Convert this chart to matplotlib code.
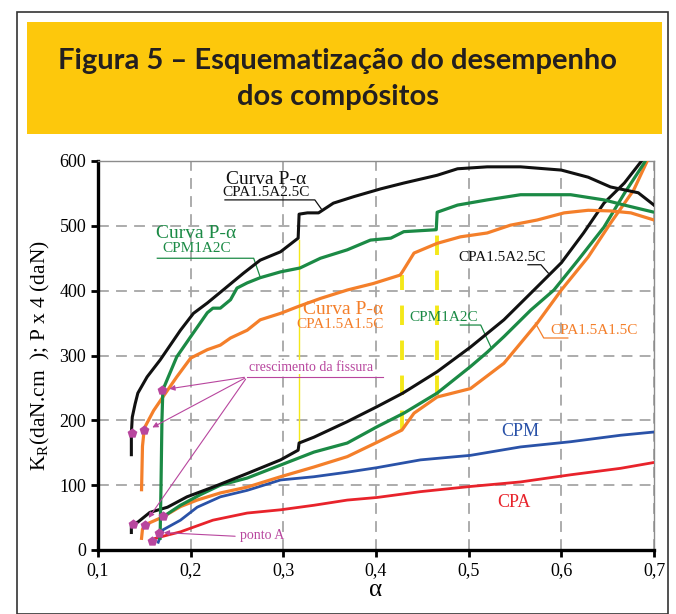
import matplotlib.pyplot as plt
from matplotlib.patches import Rectangle
from matplotlib.ticker import FuncFormatter

# P-alpha curves (upper) and K_R curves (lower)
pa_black_x = [0.136, 0.136, 0.137, 0.140, 0.143, 0.153, 0.167, 0.189, 0.203, 0.218, 0.235, 0.257, 0.275,
              0.297, 0.316, 0.317, 0.326, 0.338, 0.354, 0.376, 0.405, 0.430, 0.466, 0.488, 0.520,
              0.556, 0.600, 0.629, 0.653, 0.683, 0.700]
pa_black_y = [147, 180, 205, 225, 242, 267, 293, 339, 365, 381, 401, 427, 447,
              460, 481, 518, 520, 520, 535, 545, 557, 566, 578, 588, 591,
              591, 586, 575, 560, 551, 532]

pa_green_x = [0.167, 0.168, 0.169, 0.170, 0.185, 0.200, 0.218, 0.224, 0.232, 0.243, 0.250, 0.261, 0.275,
              0.297, 0.318, 0.340, 0.369, 0.394, 0.416, 0.430, 0.465, 0.466, 0.488, 0.520,
              0.556, 0.610, 0.646, 0.668, 0.700]
pa_green_y = [18, 100, 200, 247, 298, 329, 366, 373, 373, 386, 404, 412, 420,
              429, 435, 450, 463, 478, 481, 491, 494, 521, 532, 540,
              548, 548, 540, 532, 521]

pa_orange_x = [0.147, 0.148, 0.150, 0.160, 0.170, 0.185, 0.200, 0.218, 0.232, 0.243, 0.261, 0.275,
               0.297, 0.315, 0.340, 0.369, 0.397, 0.426, 0.428, 0.441, 0.466, 0.491, 0.520,
               0.545, 0.574, 0.603, 0.629, 0.653, 0.675, 0.700]
pa_orange_y = [93, 160, 188, 215, 236, 267, 296, 309, 316, 327, 339, 355,
               365, 375, 388, 401, 411, 424, 428, 458, 473, 483, 489,
               501, 509, 520, 524, 523, 520, 509]

kr_black_x = [0.136, 0.136, 0.143, 0.156, 0.175, 0.196, 0.224, 0.261, 0.297, 0.316, 0.317, 0.333,
              0.369, 0.401, 0.429, 0.466, 0.502, 0.538, 0.574, 0.600, 0.624, 0.646, 0.668, 0.686, 0.695]
kr_black_y = [27, 40, 43, 58, 66, 82, 97, 118, 139, 154, 165, 174,
              198, 221, 242, 275, 313, 355, 406, 443, 489, 535, 566, 599, 620]

kr_green_x = [0.170, 0.189, 0.210, 0.232, 0.261, 0.297, 0.333, 0.369, 0.401, 0.430, 0.466, 0.502,
              0.520, 0.538, 0.567, 0.592, 0.618, 0.646, 0.668, 0.689, 0.698]
kr_green_y = [51, 69, 85, 100, 111, 131, 151, 165, 190, 211, 242, 283,
              305, 329, 370, 401, 447, 498, 550, 596, 620]

kr_orange_x = [0.147, 0.148, 0.151, 0.170, 0.189, 0.207, 0.232, 0.261, 0.297, 0.333, 0.369, 0.401,
               0.428, 0.441, 0.466, 0.502, 0.538, 0.574, 0.600, 0.629, 0.653, 0.678, 0.693, 0.700]
kr_orange_y = [18, 32, 39, 51, 67, 77, 88, 97, 113, 128, 144, 166,
               185, 211, 236, 249, 288, 350, 401, 452, 504, 555, 601, 620]

cpm_x = [0.165, 0.170, 0.189, 0.207, 0.232, 0.261, 0.297, 0.333, 0.369, 0.401, 0.448, 0.502,
         0.556, 0.610, 0.664, 0.700]
cpm_y = [12, 31, 46, 66, 82, 92, 108, 113, 120, 127, 139, 146,
         159, 167, 177, 182]

cpa_x = [0.162, 0.175, 0.189, 0.224, 0.261, 0.297, 0.333, 0.369, 0.401, 0.448, 0.502,
         0.556, 0.610, 0.664, 0.700]
cpa_y = [18, 23, 28, 46, 57, 62, 69, 77, 81, 90, 98,
         105, 116, 126, 135]

# crack growth markers
mark_x = [0.169, 0.137, 0.150, 0.138, 0.151, 0.170, 0.166, 0.158]
mark_y = [247, 181, 185, 40, 39, 52, 26, 14]

# yellow reference lines (x, y0, y1)
yl_thin = (0.317, 165, 478)
yl_dashed = [(0.428, 185, 424), (0.466, 239, 500)]

BLACK = '#111111'
GREEN = '#1b8a45'
ORANGE = '#f47f2a'
BLUE = '#2a52a8'
RED = '#e8232b'
PINK = '#b8469e'
YELLOW = '#f4e81a'

plt.rcParams['font.family'] = ['Liberation Serif', 'DejaVu Serif']

fig = plt.figure(figsize=(6.76, 6.14), dpi=100)

# frame and title box
fig.patches.append(Rectangle((17 / 676, 0), 651 / 676, 1 - 12 / 614, transform=fig.transFigure,
                             fill=False, edgecolor='#333333', linewidth=1.2))
fig.patches.append(Rectangle((27 / 676, 1 - 134 / 614), 635 / 676, 112 / 614, transform=fig.transFigure,
                             facecolor='#fdc80c', edgecolor='none'))
fig.text(0.5, 1 - 61 / 614, 'Figura 5 – Esquematização do desempenho', ha='center', va='center',
         fontsize=21, fontweight='bold', family=['Lato', 'DejaVu Sans'], color='#231f20')
fig.text(0.5, 1 - 97 / 614, 'dos compósitos', ha='center', va='center',
         fontsize=21, fontweight='bold', family=['Lato', 'DejaVu Sans'], color='#231f20')

ax = fig.add_axes([98 / 676, 1 - 550 / 614, 556 / 676, 389 / 614])
ax.set_xlim(0.1, 0.7)
ax.set_ylim(0, 600)

ax.grid(True, color='#a6a6a6', linestyle=(0, (6, 4)), linewidth=1.3)
ax.set_axisbelow(True)

# yellow guide lines
ax.plot([yl_thin[0], yl_thin[0]], [yl_thin[1], yl_thin[2]], color=YELLOW, lw=1.0, zorder=2)
for x0, y0, y1 in yl_dashed:
    ax.plot([x0, x0], [y0, y1], color=YELLOW, lw=2.8, linestyle=(0, (5, 4)), zorder=2)

ax.plot(cpa_x, cpa_y, color=RED, lw=2.0, zorder=3)
ax.plot(cpm_x, cpm_y, color=BLUE, lw=2.0, zorder=3)
ax.plot(kr_orange_x, kr_orange_y, color=ORANGE, lw=2.3, zorder=3)
ax.plot(kr_green_x, kr_green_y, color=GREEN, lw=2.3, zorder=3)
ax.plot(kr_black_x, kr_black_y, color=BLACK, lw=2.2, zorder=3)
ax.plot(pa_orange_x, pa_orange_y, color=ORANGE, lw=2.3, zorder=3)
ax.plot(pa_green_x, pa_green_y, color=GREEN, lw=2.3, zorder=3)
ax.plot(pa_black_x, pa_black_y, color=BLACK, lw=2.2, zorder=3)

ax.scatter(mark_x, mark_y, marker='p', s=55, color=PINK, zorder=5, linewidths=0)

# labels
ax.text(0.238, 572, 'Curva P-α', ha='left', va='center', fontsize=14, color=BLACK)
ax.text(0.234, 551, 'CPA1.5A2.5C', ha='left', va='center', fontsize=11, color=BLACK)
ax.plot([0.237, 0.334, 0.341], [540, 540, 526], color=BLACK, lw=0.9)

ax.text(0.163, 488, 'Curva P-α', ha='left', va='center', fontsize=14, color=GREEN)
ax.text(0.206, 465, 'CPM1A2C', ha='center', va='center', fontsize=11, color=GREEN)
ax.plot([0.164, 0.268, 0.275], [450, 450, 421], color=GREEN, lw=0.9)

ax.text(0.321, 371, 'Curva P-α', ha='left', va='center', fontsize=14, color=ORANGE)
ax.text(0.314, 348, 'CPA1.5A1.5C', ha='left', va='center', fontsize=11, color=ORANGE)

ax.text(0.489, 451, 'CPA1.5A2.5C', ha='left', va='center', fontsize=11, color=BLACK)
ax.plot([0.564, 0.578, 0.586], [440, 440, 427], color=BLACK, lw=0.9)

ax.text(0.436, 358, 'CPM1A2C', ha='left', va='center', fontsize=11, color=GREEN)
ax.plot([0.491, 0.513, 0.524], [347, 347, 313], color=GREEN, lw=0.9)

ax.text(0.588, 338, 'CPA1.5A1.5C', ha='left', va='center', fontsize=11, color=ORANGE)
ax.plot([0.572, 0.581, 0.607], [350, 327, 327], color=ORANGE, lw=0.9)

ax.text(0.556, 183, 'CPM', ha='center', va='center', fontsize=13, color=BLUE)
ax.text(0.549, 74, 'CPA', ha='center', va='center', fontsize=13, color=RED)

ax.text(0.263, 272, 'crescimento da fissura', ha='left', va='bottom', fontsize=10, color=PINK,
        bbox=dict(facecolor='white', edgecolor='none', pad=0.5))
ax.plot([0.261, 0.408], [267, 267], color=PINK, lw=0.8)
for tx, ty in [(0.174, 248), (0.156, 187), (0.153, 46)]:
    ax.annotate('', xy=(tx, ty), xytext=(0.261, 267),
                arrowprops=dict(arrowstyle='-|>', color=PINK, lw=0.8, mutation_scale=8))

ax.text(0.253, 22, 'ponto A', ha='left', va='center', fontsize=10, color=PINK)
ax.annotate('', xy=(0.168, 27), xytext=(0.251, 21),
            arrowprops=dict(arrowstyle='-|>', color=PINK, lw=0.8, mutation_scale=8))

# axes styling
for side in ['left', 'bottom']:
    ax.spines[side].set_linewidth(2.4)
    ax.spines[side].set_color('black')
for side in ['right', 'top']:
    ax.spines[side].set_linewidth(1.0)
    ax.spines[side].set_color('#8c8c8c')

ax.set_xticks([0.1, 0.2, 0.3, 0.4, 0.5, 0.6, 0.7])
ax.set_yticks([0, 100, 200, 300, 400, 500, 600])
ax.xaxis.set_major_formatter(FuncFormatter(lambda v, _: f'{v:.1f}'.replace('.', ',')))
ax.tick_params(axis='both', direction='out', length=5, width=2, labelsize=13, color='black')
ax.tick_params(axis='x', pad=4)

ax.set_xlabel('α', fontsize=18, labelpad=0)
ax.set_ylabel('K$_\\mathregular{R}$(daN.cm  ); P x 4 (daN)', fontsize=15.5, labelpad=5)

plt.savefig('out.png', dpi=100)
